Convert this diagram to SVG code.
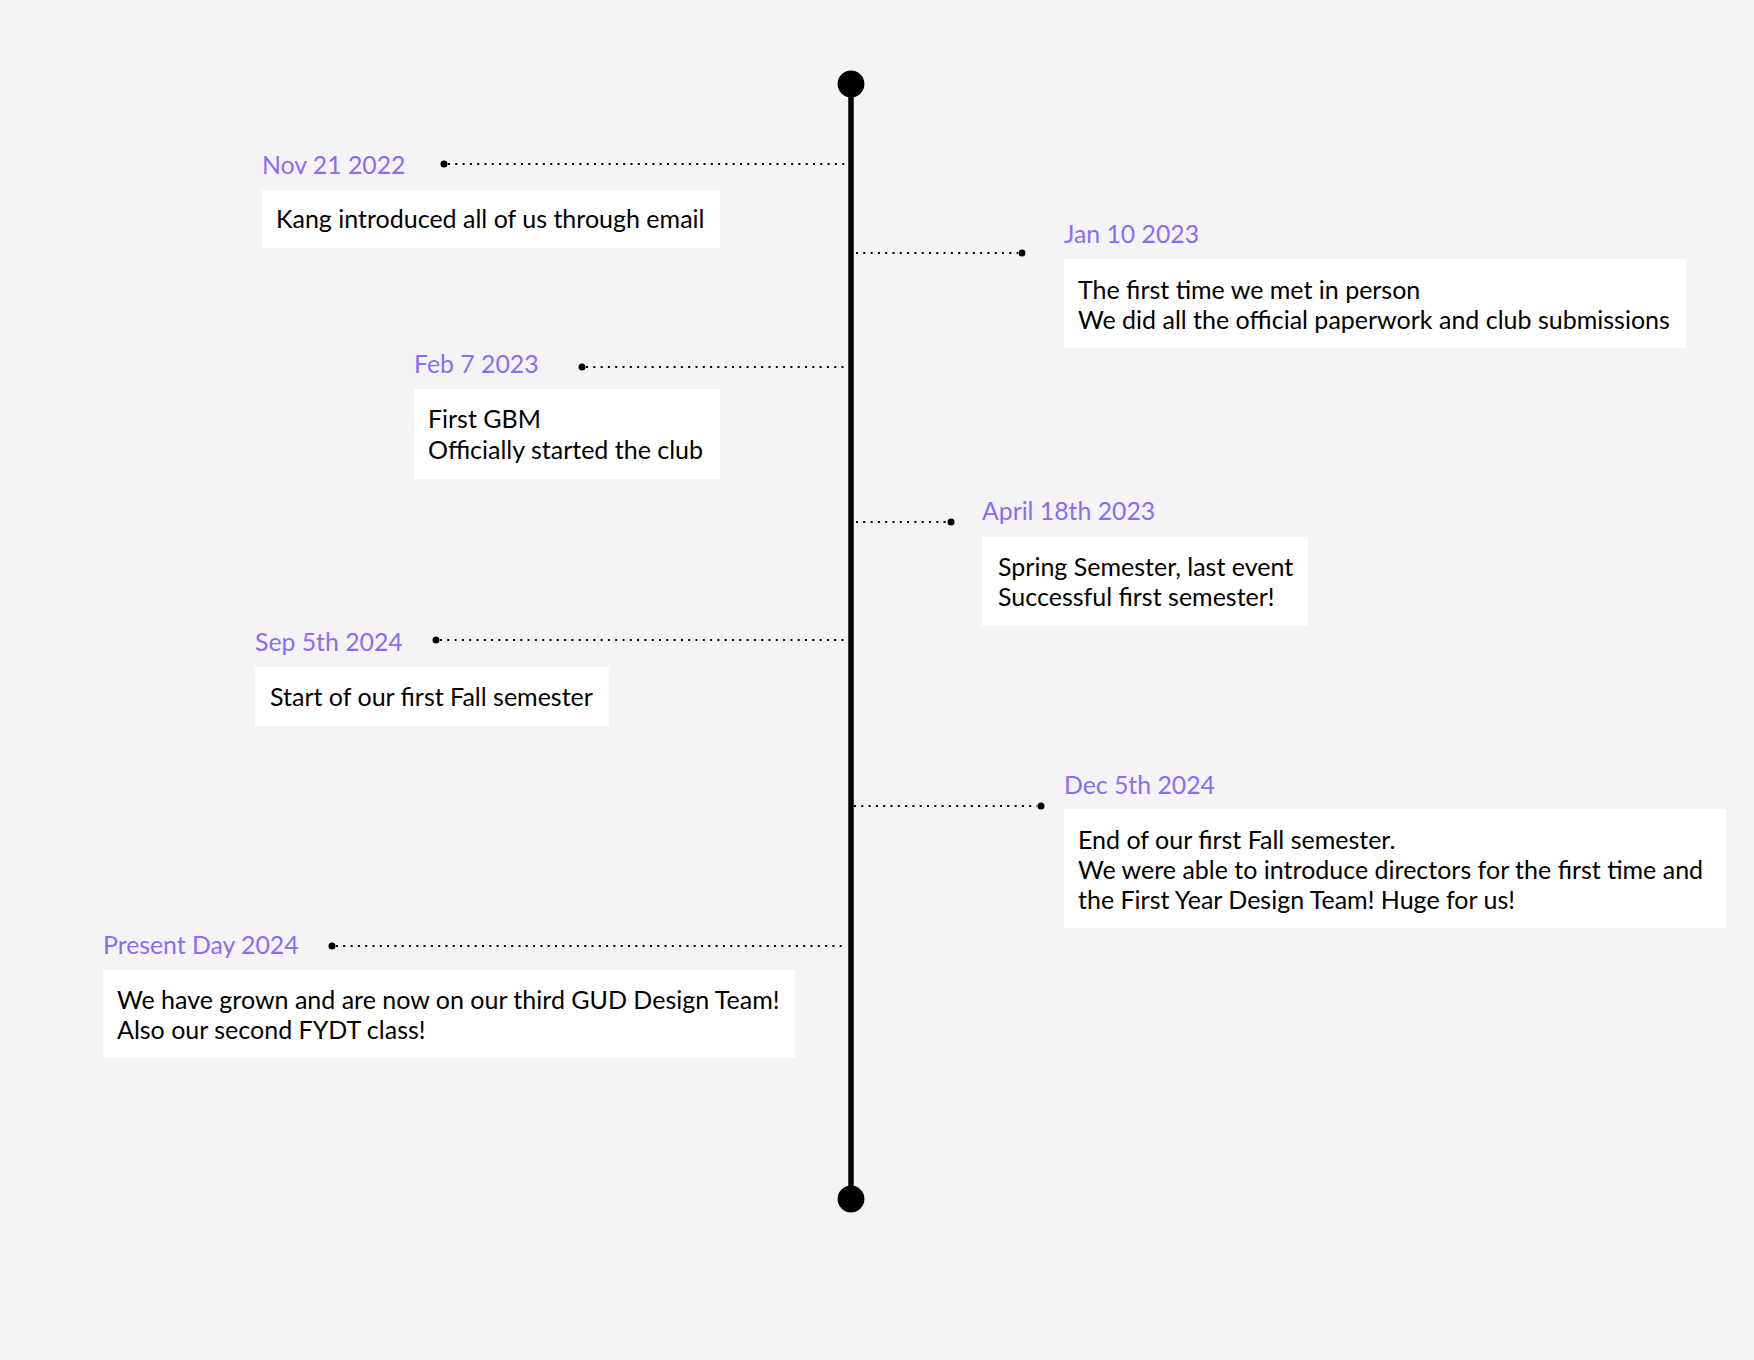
<svg xmlns="http://www.w3.org/2000/svg" width="1754" height="1360" viewBox="0 0 1754 1360">
<style>
.date{font-family:Lato,"Liberation Sans",sans-serif;font-size:24.8px;fill:#8b6cf6}
.body{font-family:Lato,"Liberation Sans",sans-serif;font-size:25px;fill:#000}
.box{fill:#fff}
.dots{stroke:#000;stroke-width:2;stroke-dasharray:2 5.3;fill:none}
.pin{fill:#000}
</style>
<rect width="1754" height="1360" fill="#f4f4f6"/>
<g id="axis">
<line x1="851" y1="84" x2="851" y2="1199" stroke="#000" stroke-width="5.5"/>
<circle cx="851" cy="84" r="13.4" fill="#000"/>
<circle cx="851" cy="1199" r="13.4" fill="#000"/>
</g>
<g id="connectors">
<line class="dots" x1="448" y1="164" x2="847" y2="164"/>
<line class="dots" x1="856" y1="253" x2="1018" y2="253"/>
<line class="dots" x1="586" y1="367" x2="847" y2="367"/>
<line class="dots" x1="856" y1="522" x2="947" y2="522"/>
<line class="dots" x1="440" y1="640" x2="849" y2="640"/>
<line class="dots" x1="854" y1="806" x2="1037" y2="806"/>
<line class="dots" x1="336" y1="946" x2="847" y2="946"/>
<circle class="pin" cx="444" cy="164" r="3.5"/>
<circle class="pin" cx="1022" cy="253" r="3.5"/>
<circle class="pin" cx="582" cy="367" r="3.5"/>
<circle class="pin" cx="951" cy="522" r="3.5"/>
<circle class="pin" cx="436" cy="640" r="3.5"/>
<circle class="pin" cx="1041" cy="806" r="3.5"/>
<circle class="pin" cx="332" cy="946" r="3.5"/>
</g>
<g id="event-nov-2022">
<text class="date" x="262" y="174">Nov 21 2022</text>
<rect class="box" x="262" y="190" width="458" height="58"/>
<text class="body" x="276" y="228">Kang introduced all of us through email</text>
</g>
<g id="event-jan-2023">
<text class="date" x="1064" y="243">Jan 10 2023</text>
<rect class="box" x="1064" y="259" width="622" height="89"/>
<text class="body" x="1078" y="299">The first time we met in person</text>
<text class="body" x="1078" y="329">We did all the official paperwork and club submissions</text>
</g>
<g id="event-feb-2023">
<text class="date" x="414" y="373">Feb 7 2023</text>
<rect class="box" x="414" y="389" width="306" height="90"/>
<text class="body" x="428" y="428">First GBM</text>
<text class="body" x="428" y="459">Officially started the club</text>
</g>
<g id="event-apr-2023">
<text class="date" x="982" y="520">April 18th 2023</text>
<rect class="box" x="982" y="537" width="326" height="89"/>
<text class="body" x="998" y="576">Spring Semester, last event</text>
<text class="body" x="998" y="606">Successful first semester!</text>
</g>
<g id="event-sep-2024">
<text class="date" x="255" y="651">Sep 5th 2024</text>
<rect class="box" x="255" y="667" width="354" height="59"/>
<text class="body" x="270" y="706">Start of our first Fall semester</text>
</g>
<g id="event-dec-2024">
<text class="date" x="1064" y="794">Dec 5th 2024</text>
<rect class="box" x="1064" y="809" width="662" height="119"/>
<text class="body" x="1078" y="849">End of our first Fall semester.</text>
<text class="body" x="1078" y="879">We were able to introduce directors for the first time and</text>
<text class="body" x="1078" y="909">the First Year Design Team! Huge for us!</text>
</g>
<g id="event-present-2024">
<text class="date" x="103" y="954">Present Day 2024</text>
<rect class="box" x="103" y="970" width="692" height="88"/>
<text class="body" x="117" y="1009">We have grown and are now on our third GUD Design Team!</text>
<text class="body" x="117" y="1039">Also our second FYDT class!</text>
</g>
</svg>
